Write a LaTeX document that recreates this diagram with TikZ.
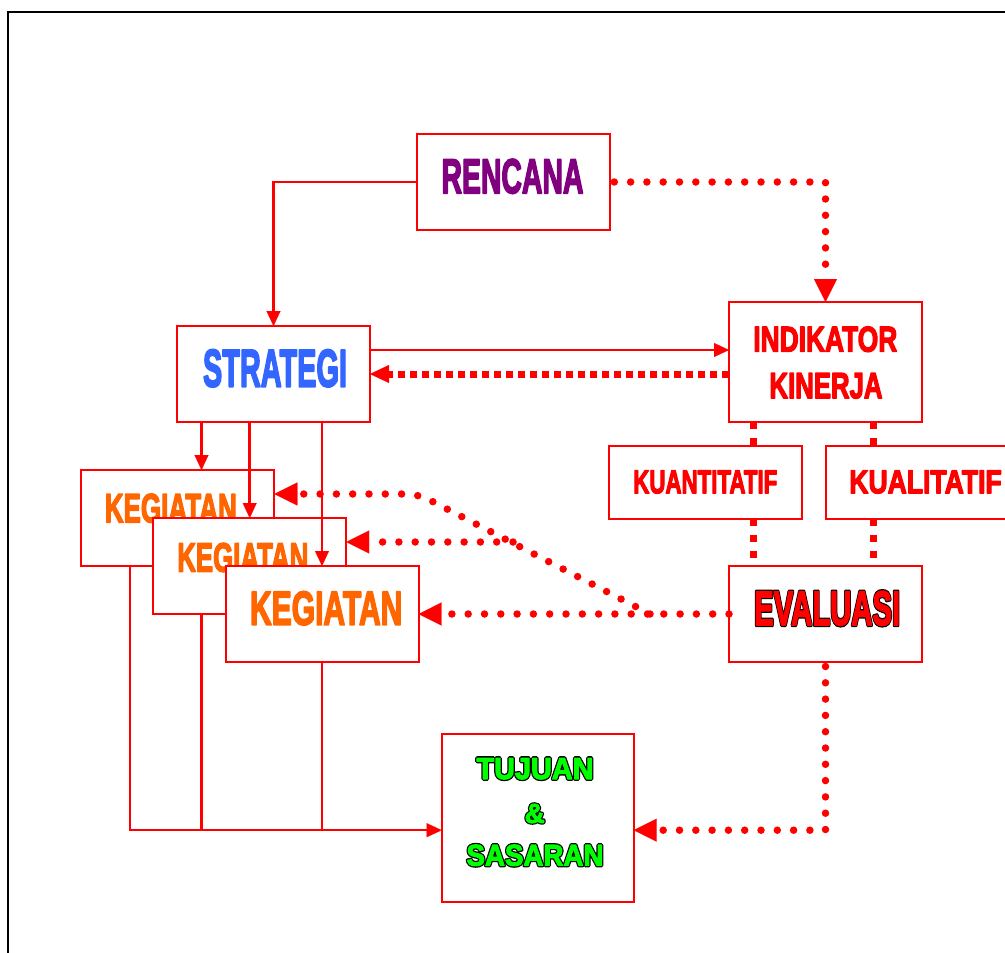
\documentclass[tikz,border=0pt]{standalone}
\usepackage{fontspec}
\setmainfont{Liberation Sans}
\newfontfamily\hvA[FakeBold=4]{Liberation Sans Bold}
\newfontfamily\hvEb[FakeBold=8.4]{Liberation Sans Bold}
\newfontfamily\hvEc[FakeBold=3.2]{Liberation Sans Bold}
\newfontfamily\hvTb[FakeBold=12]{Liberation Sans Bold}
\newfontfamily\hvTc[FakeBold=3.4]{Liberation Sans Bold}
\usetikzlibrary{arrows.meta}
\definecolor{myred}{HTML}{FF0000}
\definecolor{kpurple}{HTML}{800080}
\definecolor{kblue}{HTML}{3366FF}
\definecolor{korange}{HTML}{FF6600}
\definecolor{kgreen}{HTML}{00FF00}
\newcommand\rjoin{\special{pdf:literal direct 1 j}}
% #1 font, #2 size, #3 width, #4 height, #5 text
\newcommand\tx[5]{{\rjoin#1\fontsize{#2}{#2}\selectfont\resizebox{#3pt}{#4pt}{#5}}}
% outlined text: #1 heavy font, #2 light font, #3 size, #4 width, #5 height, #6 fill colour, #7 text
\newcommand\oltx[7]{{\rjoin\fontsize{#3}{#3}\selectfont\resizebox{#4pt}{#5pt}{\rlap{#1\color{black}#7}{#2\color{#6}#7}}}}
\begin{document}
\begin{tikzpicture}[x=1pt,y=-1pt,
  box/.style={draw=myred, line width=2pt, fill=white, minimum width=193pt, inner sep=0pt, outer sep=0pt},
  txt/.style={inner sep=0pt},
  conn/.style={draw=myred, line width=2.5pt},
  sarr/.style={conn, -{Triangle[length=15pt,width=14pt,line width=0.1pt]}},
  dotl/.style={draw=myred, line width=7.5pt, line cap=round, dash pattern=on 0pt off 16.3pt},
  darr/.style={dotl, -{Triangle[length=23pt,width=23pt,line width=0.1pt]}},
  sqd/.style={draw=myred, line width=7pt, dash pattern=on 7pt off 9pt},
  sqh/.style={draw=myred, line width=7pt, dash pattern=on 7pt off 5pt, -{Triangle[length=19pt,width=18pt,line width=0.1pt]}}
]
\useasboundingbox (0,0) rectangle (1005,953);
\draw[black,line width=2pt] (1012,12.3) -- (8.3,12.3) -- (8.3,962);

% boxes and texts
\node[box, minimum height=96pt] (rencana) at (513.5,182) {};
\node[txt] (rencanaT) at (512.5,176.3) {\tx{\hvA}{47}{142}{34}{\color{kpurple}RENCANA}};
\node[box, minimum height=96pt] (strategi) at (273.5,374) {};
\node[txt] (strategiT) at (275,368.3) {\tx{\hvA}{51.7}{144}{37}{\color{kblue}STRATEGI}};
\node[box, minimum height=120pt] (indikator) at (825.5,362) {};
\node[txt] (indT1) at (825.3,339.2) {\tx{\hvA}{35}{144}{25}{\color{myred}INDIKATOR}};
\node[txt] (indT2) at (826,385.8) {\tx{\hvA}{35}{113}{25}{\color{myred}KINERJA}};
\node[box, minimum height=72.5pt] (kuant) at (705.5,482.3) {};
\node[txt] (kuantT) at (705.3,482) {\tx{\hvA}{31.7}{144}{22.7}{\color{myred}KUANTITATIF}};
\node[box, minimum height=72.5pt] (kual) at (922.2,482.3) {};
\node[txt] (kualT) at (925.5,482) {\tx{\hvA}{31.7}{152.4}{22.7}{\color{myred}KUALITATIF}};
\node[box, minimum height=96pt] (evaluasi) at (825.5,614) {};
\node[txt] (evalT) at (827.2,608.3) {\oltx{\hvEb}{\hvEc}{47.5}{146}{34}{myred}{EVALUASI}};

\node[box, minimum height=96pt] (keg1) at (177.8,518) {};
\node[txt] (keg1T) at (170.8,508.2) {\tx{\hvA}{39.8}{132}{28.5}{\color{korange}KEGIATAN}};
\node[box, minimum height=96pt] (keg2) at (249.7,566) {};
\node[txt] (keg2T) at (242.8,557.5) {\tx{\hvA}{39.8}{131}{28.5}{\color{korange}KEGIATAN}};
\node[box, minimum height=96pt] (keg3) at (322,614) {};
\node[txt] (keg3T) at (326.2,608.3) {\tx{\hvA}{46.5}{152.3}{33.3}{\color{korange}KEGIATAN}};

\node[box, minimum height=168.3pt, minimum width=192pt] (tujuan) at (537.7,818.2) {};
\node[txt] (tujT1) at (535,768.7) {\oltx{\hvTb}{\hvTc}{29.3}{117}{21}{kgreen}{TUJUAN}};
\node[txt] (tujT2) at (534.7,813.5) {\oltx{\hvTb}{\hvTc}{29.3}{20}{19}{kgreen}{\&}};
\node[txt] (tujT3) at (535,855.3) {\oltx{\hvTb}{\hvTc}{29.3}{137}{21}{kgreen}{SASARAN}};

% helper coordinates
\coordinate (xa) at (201.5,0);
\coordinate (x1) at (130,0);
\coordinate (x2) at (201.7,0);
\coordinate (xq1) at (753.7,0);
\coordinate (xq2) at (873.7,0);
\coordinate (tin) at ([yshift=-12pt]tujuan.west);
\coordinate (tout) at ([yshift=-12pt]tujuan.east);
\coordinate (c1) at (650,614);
\coordinate (c2) at (418,494);
\coordinate (c3) at (513,542);

% connectors
\draw[sarr] (rencana.west) -| (strategi.north);
\draw[darr] ([xshift=4.3pt]rencana.east) -| (indikator.north);
\draw[sarr] ([yshift=24pt]strategi.east) -- ([yshift=24pt]strategi.east -| indikator.west);
\draw[sqh] (strategi.east -| indikator.west) -- (strategi.east);
\draw[sarr] (strategi.south -| xa) -- (keg1.north -| xa);
\draw[sarr] (strategi.south -| keg2.north) -- (keg2.north);
\draw[sarr] (strategi.south -| keg3.north) -- (keg3.north);
\draw[sarr] (keg1.south -| x1) |- (tin);
\draw[conn] (keg2.south -| x2) -- (tin -| x2);
\draw[conn] (keg3.south) -- (tin -| keg3.south);
\draw[sqd] (indikator.south -| xq1) -- (kuant.north -| xq1);
\draw[sqd] (indikator.south -| xq2) -- (kual.north -| xq2);
\draw[sqd] (kuant.south -| xq1) -- (evaluasi.north -| xq1);
\draw[sqd] (kual.south -| xq2) -- (evaluasi.north -| xq2);
\draw[darr] (evaluasi.west) -- (keg3.east);
\draw[darr, rounded corners=12pt] (c1) -- (c2) -- ([yshift=24pt]keg1.east);
\draw[darr] (c3) -- ([yshift=24pt]keg2.east);
\draw[darr] ([yshift=-4.5pt]evaluasi.south) |- (tout);
\end{tikzpicture}
\end{document}
